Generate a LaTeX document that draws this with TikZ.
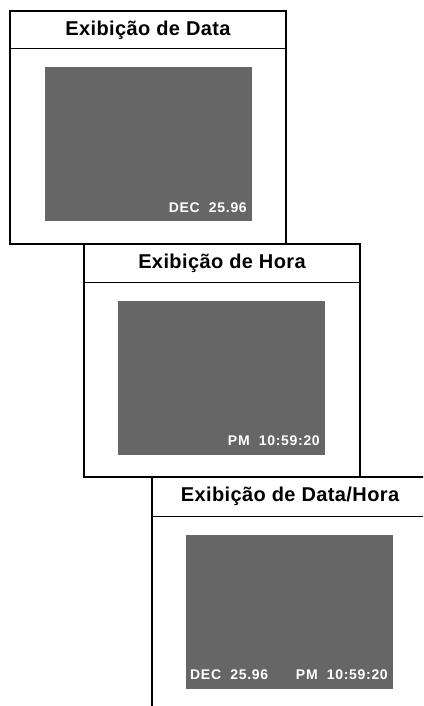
\documentclass[tikz,border=0pt]{standalone}
\usepackage{fontspec}
\setmainfont{Liberation Sans}
\newfontfamily\titlefont[LetterSpace=2]{Liberation Sans}
\newfontfamily\osdfont[LetterSpace=5]{Liberation Sans}
\usetikzlibrary{positioning}
\definecolor{screengrey}{RGB}{102,102,102}
\tikzset{
  panel/.style={draw, line width=2pt, minimum width=276pt, minimum height=233pt, inner sep=0pt, outer sep=0pt, anchor=north west},
  headline/.style={line width=1pt},
  title/.style={font=\titlefont\bfseries\fontsize{20}{22}\selectfont, minimum height=38pt, inner sep=0pt},
  screen/.style={fill=screengrey, minimum width=207pt, minimum height=154pt, inner sep=0pt, outer sep=0pt, anchor=north west},
  osd/.style={text=white, font=\osdfont\bfseries\fontsize{14}{16}\selectfont, inner sep=0pt}
}
\begin{document}
\begin{tikzpicture}[x=1pt, y=-1pt]
\fill[white] (0,0) rectangle (423,706);
\path[use as bounding box, clip] (0,0) rectangle (423,706);

% Data
\node[panel] (datepanel) at (10,11) {};
\draw[headline] ([yshift=-38pt]datepanel.north west) -- ([yshift=-38pt]datepanel.north east);
\node[title, below=0pt of datepanel.north] (datetitle) {Exibição de Data};
\node[screen] (datescreen) at ([xshift=35pt, yshift=-56pt]datepanel.north west) {};
\node[osd, anchor=base east] (datestamp) at ([xshift=-5pt, yshift=9pt]datescreen.south east) {DEC\ \ 25.96};

% Hora
\node[panel] (timepanel) at (84,244) {};
\draw[headline] ([yshift=-38pt]timepanel.north west) -- ([yshift=-38pt]timepanel.north east);
\node[title, below=0pt of timepanel.north] (timetitle) {Exibição de Hora};
\node[screen] (timescreen) at ([xshift=34pt, yshift=-57pt]timepanel.north west) {};
\node[osd, anchor=base east] (timestamp) at ([xshift=-5pt, yshift=10pt]timescreen.south east) {PM\ \ 10:59:20};

% Data/Hora
\node[panel] (bothpanel) at (152,477) {};
\draw[headline] ([yshift=-39pt]bothpanel.north west) -- ([yshift=-39pt]bothpanel.north east);
\node[title, below=0pt of bothpanel.north, minimum height=39pt] (bothtitle) {Exibição de Data/Hora};
\node[screen] (bothscreen) at ([xshift=34pt, yshift=-58pt]bothpanel.north west) {};
\node[osd, anchor=base west] (bothdate) at ([xshift=4pt, yshift=10pt]bothscreen.south west) {DEC\ \ 25.96};
\node[osd, anchor=base east] (bothtime) at ([xshift=-5pt, yshift=10pt]bothscreen.south east) {PM\ \ 10:59:20};
\end{tikzpicture}
\end{document}
